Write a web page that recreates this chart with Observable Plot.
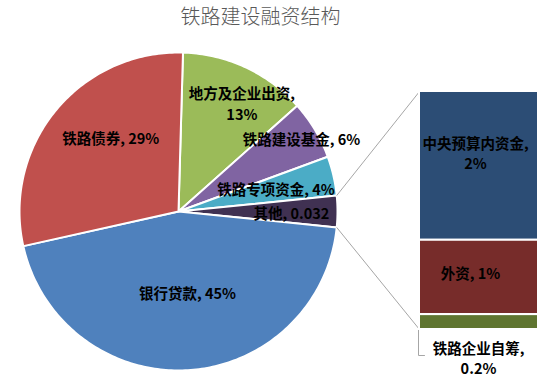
<!DOCTYPE html>
<html><head><meta charset="utf-8">
<script src="https://cdn.jsdelivr.net/npm/d3@7"></script>
<script src="https://cdn.jsdelivr.net/npm/@observablehq/plot@0.6"></script>
<style>
body{margin:0;background:#fff;}
#chart svg{display:block;}
</style></head><body><div id="chart"></div>
<script>
// ---------- data ----------
const title = "铁路建设融资结构";
const pieNames = ["地方及企业出资","铁路建设基金","铁路专项资金","其他","银行贷款","铁路债券"];
const pieValues = [0.13,0.06,0.04,0.032,0.45,0.29];
const pieLabels = ["地方及企业出资,\n13%","铁路建设基金, 6%","铁路专项资金, 4%","其他, 0.032","银行贷款, 45%","铁路债券, 29%"];
const barNames = ["中央预算内资金","外资","铁路企业自筹"];
const barValues = [0.02,0.01,0.002];
const barLabels = ["中央预算内资金,\n2%","外资, 1%","铁路企业自筹,\n0.2%"];

// ---------- style ----------
const pieColors = ["#9BBB59","#8064A2","#4BACC6","#403152","#4F81BD","#C0504D"];
const barColors = ["#2C4D75","#772C2A","#5F7530"];
const FONT = "'Noto Sans CJK SC','Noto Sans',sans-serif";

// ---------- layout (pixels -> pie units) ----------
const W = 556, H = 381, CX = 178, CY = 211, R = 159;
const ux = p => (p - CX) / R, uy = p => (CY - p) / R;
const bar = {x1: ux(419), x2: ux(538), top: uy(91), bottom: uy(329)};
// label positions for pie: [angle clockwise from 12 o'clock (deg), radius fraction]
const pieLabelPolar = [[30.3,0.79],[59.3,0.90],[76.7,0.63],[90.5,0.71],[173.6,0.51],[317.4,0.63]];
const barLabelPx = [[475,152],[470,272],[478,357]];
const otherIndex = pieNames.indexOf("其他");

// ---------- pie geometry ----------
const total = d3.sum(pieValues);
const cum = d3.cumsum(pieValues);
const start = i => (i ? cum[i-1] : 0) / total * 360;
const end = i => cum[i] / total * 360;
const rot = 90 - (start(otherIndex) + end(otherIndex)) / 2;
const pt = (a, r) => ({x: r * Math.sin((a + rot) * Math.PI/180), y: r * Math.cos((a + rot) * Math.PI/180)});

const slicePts = [];
pieNames.forEach((name, i) => {
  const a0 = start(i), a1 = end(i);
  const n = Math.max(2, Math.ceil(a1 - a0));
  slicePts.push({name, ...pt(0, 0)});
  for (let k = 0; k <= n; k++) slicePts.push({name, ...pt(a0 + (a1 - a0) * k / n, 1)});
  slicePts.push({name, ...pt(0, 0)});
});

const pieLabelData = pieLabels.map((t, i) => {
  const [a, r] = pieLabelPolar[i];
  const x = r * Math.sin(a * Math.PI/180), y = r * Math.cos(a * Math.PI/180);
  return {t, x, y};
});

// ---------- bar geometry ----------
const k = (bar.top - bar.bottom) / d3.sum(barValues);
let acc = bar.top;
const barData = barNames.map((name, i) => {
  const y1 = acc, y2 = acc - barValues[i] * k;
  acc = y2;
  return {name, x1: bar.x1, x2: bar.x2, y1, y2};
});
const barLabelData = barLabels.map((t, i) => ({t, x: ux(barLabelPx[i][0]), y: uy(barLabelPx[i][1])}));

// connectors from the "其他" slice to the bar
const pA = pt(start(otherIndex), 1), pB = pt(end(otherIndex), 1);
const connectors = [
  {x1: pA.x, y1: pA.y, x2: bar.x1, y2: bar.top},
  {x1: pB.x, y1: pB.y, x2: bar.x1, y2: bar.bottom}
];
const gMid = (barData[2].y1 + barData[2].y2) / 2;
const leader = [
  {x: bar.x1 - 1/R, y: gMid},
  {x: bar.x1 - 1/R, y: uy(355)},
  {x: bar.x1 + 5/R, y: uy(355)}
];

const chart = Plot.plot({
  width: W, height: H,
  margin: 0,
  x: {domain: [ux(0), ux(W)], range: [0, W], axis: null},
  y: {domain: [uy(H), uy(0)], range: [H, 0], axis: null},
  color: {domain: [...pieNames, ...barNames], range: [...pieColors, ...barColors]},
  style: {fontFamily: FONT, background: "#fff"},
  marks: [
    Plot.line(slicePts, {x: "x", y: "y", z: "name", fill: "name", stroke: "white", strokeWidth: 2, strokeLinejoin: "round", curve: "linear"}),
    Plot.link(connectors, {x1: "x1", y1: "y1", x2: "x2", y2: "y2", stroke: "#A6A6A6", strokeWidth: 1}),
    Plot.line(leader, {x: "x", y: "y", stroke: "#A6A6A6", strokeWidth: 1}),
    Plot.rect(barData, {x1: "x1", x2: "x2", y1: "y1", y2: "y2", fill: "name", stroke: "white", strokeWidth: 2}),
    Plot.text(pieLabelData, {x: "x", y: "y", text: "t", fontSize: 14.5, fontWeight: "bold", fill: "#000", lineHeight: 1.4, fontFamily: FONT}),
    Plot.text(barLabelData, {x: "x", y: "y", text: "t", fontSize: 14.5, fontWeight: "bold", fill: "#000", lineHeight: 1.4, fontFamily: FONT}),
    Plot.text([title], {x: ux(260), y: uy(17), text: d => d, fontSize: 20, fill: "#595959", fontWeight: 300, fontFamily: FONT})
  ]
});
document.getElementById("chart").appendChild(chart);
</script>
</body></html>
